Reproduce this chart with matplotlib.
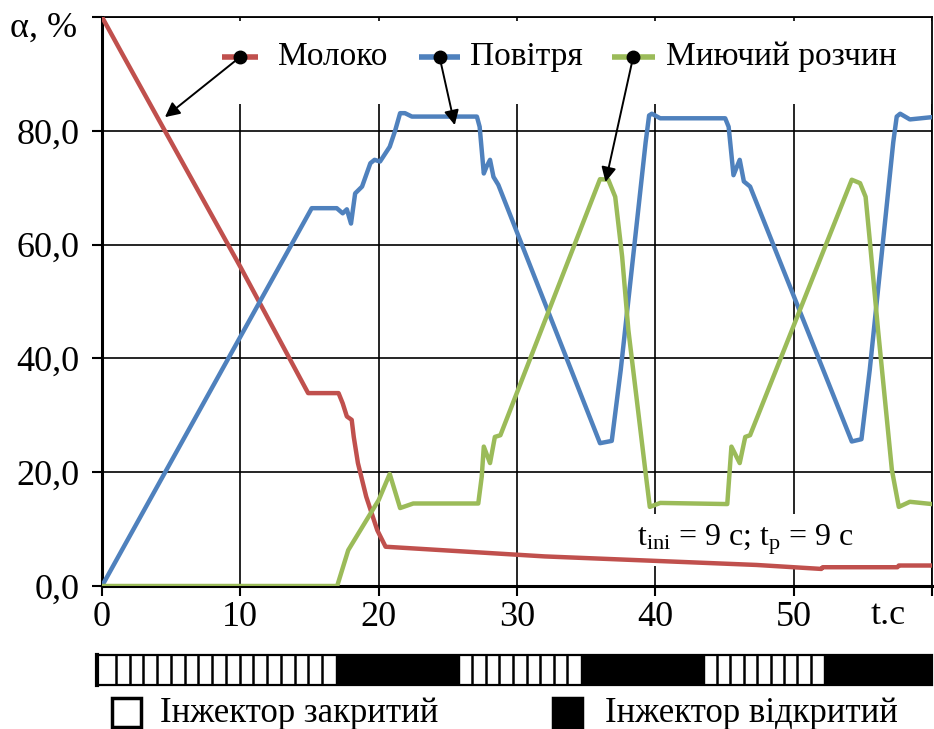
import numpy as np
import matplotlib.pyplot as plt
import matplotlib.transforms as mtransforms
from matplotlib.patches import Rectangle
from matplotlib.ticker import FuncFormatter

plt.rcParams['font.family'] = ['Liberation Serif', 'DejaVu Serif']
plt.rcParams['mathtext.fontset'] = 'custom'
plt.rcParams['mathtext.rm'] = 'Liberation Serif'

# Молоко
milk_t = [0, 1.4, 4.5, 10, 14.9, 17.1, 17.4, 17.7, 18.05, 18.2, 18.5, 19.1, 19.9, 20.5,
          32, 47.3, 52, 52.1, 57.5, 57.6, 60]
milk = [100, 93.8, 80.2, 56.1, 33.9, 33.9, 32.1, 29.8, 29.2, 26.2, 21.6, 15.7, 9.8, 6.9,
        5.2, 3.7, 3.0, 3.3, 3.3, 3.6, 3.6]

# Повітря
air_t = [0, 15.16, 16.97, 17.4, 17.7, 18.0, 18.3, 18.8, 19.4, 19.7, 20.1, 20.8, 21.2, 21.55,
         21.9, 22.4, 27.1, 27.3, 27.6, 27.8, 28.05, 28.3, 28.65, 36.0, 36.85, 37.5, 39.3,
         39.55, 39.75, 40.35, 45.05, 45.3, 45.65, 46.1, 46.4, 46.85, 54.2, 54.9, 55.5, 57.2,
         57.45, 57.7, 58.4, 60]
air = [0, 66.4, 66.4, 65.5, 66.2, 63.7, 69.0, 70.2, 74.3, 74.9, 74.6, 77.2, 80.1, 83.1,
       83.1, 82.5, 82.5, 80.7, 72.5, 73.7, 74.9, 71.9, 70.5, 25.1, 25.5, 38, 78,
       82.7, 83, 82.2, 82.2, 80.7, 72.2, 74.9, 71.1, 70.2, 25.4, 25.8, 38, 78,
       82.5, 83, 82, 82.4]

# Миючий розчин
wash_t = [0, 17.0, 17.8, 20.0, 20.8, 21.55, 22.5, 27.2, 27.45, 27.6, 28.05, 28.4, 28.8,
          36.0, 36.6, 37.1, 37.6, 38.05, 39.3, 39.6, 40.35, 45.2, 45.5, 46.1, 46.5,
          46.85, 54.2, 54.8, 55.2, 55.5, 56.1, 57.1, 57.6, 58.4, 60]
wash = [0, 0, 6.3, 15.1, 19.7, 13.7, 14.5, 14.5, 19.2, 24.5, 21.6, 26.2, 26.5,
        71.5, 71.4, 68.4, 57.9, 45, 19.8, 13.9, 14.6, 14.4, 24.5, 21.6, 26.2,
        26.5, 71.4, 70.8, 68.4, 60.8, 45, 20.4, 13.9, 14.8, 14.4]

series_names = ['Молоко', 'Повітря', 'Миючий розчин']
series_colors = ['#C0504D', '#4F81BD', '#9BBB59']

# injector state: 0 - закритий, 1 - відкритий
inj_edges = [0, 16.9, 25.8, 34.6, 43.5, 52.2, 60]
inj_state = [0, 1, 0, 1, 0, 1]

x_ticks = [0, 10, 20, 30, 40, 50, 60]
y_ticks = [0, 20, 40, 60, 80, 100]

FS = 24

fig = plt.figure(figsize=(9.34, 7.29), dpi=100)
ax = fig.add_axes([102 / 934, 1 - 586 / 729, 830 / 934, 569 / 729])

for t, v, c in zip([milk_t, air_t, wash_t], [milk, air, wash], series_colors):
    ax.plot(t, v, color=c, lw=3.2, zorder=3, solid_joinstyle='round')

ax.set_xlim(0, 60)
ax.set_ylim(0, 100)
ax.set_xticks(x_ticks)
ax.set_yticks(y_ticks)
ax.xaxis.set_major_formatter(FuncFormatter(lambda v, p: '' if v >= 60 else f'{v:.0f}'))
ax.yaxis.set_major_formatter(
    FuncFormatter(lambda v, p: '' if v >= 100 else f'{v:.1f}'.replace('.', ',')))
ax.tick_params(axis='both', labelsize=26, direction='out', length=7, width=1.5, color='k')
ax.tick_params(axis='y', pad=9)
ax.tick_params(axis='x', pad=4)
ax.grid(True, color='k', lw=1.2, zorder=1)
ax.set_axisbelow(True)
for side in ['left', 'bottom']:
    ax.spines[side].set_linewidth(2.2)
for side in ['top', 'right']:
    ax.spines[side].set_linewidth(1.3)

# axis titles
fig.text(44 / 934, 1 - 28 / 729, 'α, %', fontsize=26, ha='center', va='center')
trans = mtransforms.blended_transform_factory(ax.transData, ax.transAxes)
ax.text(56.8, -0.022, 't.c', transform=trans, fontsize=26, ha='center', va='top')

# legend with leader arrows
ax.add_patch(Rectangle((8.2, 84.7), 57.5 - 8.2 + 3.5, 14.6, fc='white', ec='none', zorder=2))
legend_x = [(8.7, 11.3), (22.9, 25.9), (36.9, 40.0)]
legend_dot = [10.0, 24.4, 38.4]
legend_text_x = [12.7, 26.6, 40.8]
arrow_tips = [(4.55, 82.4), (25.5, 81.0), (36.4, 71.0)]
legend_y = 93
for (x0, x1), xd, xt, tip, name, c in zip(legend_x, legend_dot, legend_text_x, arrow_tips,
                                           series_names, series_colors):
    ax.plot([x0, x1], [legend_y, legend_y], color=c, lw=4, zorder=4, solid_capstyle='butt')
    ax.annotate('', xy=tip, xytext=(xd, legend_y),
                arrowprops=dict(arrowstyle='-|>', color='k', lw=1.4, mutation_scale=22,
                                shrinkA=0, shrinkB=0), zorder=5)
    ax.plot(xd, legend_y, 'o', color='k', ms=9, zorder=6)
    ax.text(xt, legend_y, name, fontsize=FS, ha='left', va='center', zorder=6)

ax.text(46.5, 8.1, r'$\mathregular{t_{ini}}$ = 9 c; $\mathregular{t_p}$ = 9 c', fontsize=23,
        ha='center', va='center', zorder=2,
        bbox=dict(fc='white', ec='none', pad=6))

# injector state bar
bax = fig.add_axes([102 / 934, 1 - 685 / 729, 830 / 934, 30 / 729])
bax.set_xlim(0, 60)
bax.set_ylim(0, 1)
bax.axis('off')
for a, b, s in zip(inj_edges[:-1], inj_edges[1:], inj_state):
    if s == 1:
        bax.add_patch(Rectangle((a, 0), b - a, 1, fc='black', ec='black', lw=1))
    else:
        n = int(round((b - a) / 0.97))
        for xs in np.linspace(a, b, n + 1)[1:-1]:
            bax.plot([xs, xs], [0, 1], color='k', lw=1.8)
bax.add_patch(Rectangle((-0.35, 0), 60.35, 1, fc='none', ec='black', lw=1.6, clip_on=False))
bax.plot([-0.35, -0.35], [0, 1], color='k', lw=3, clip_on=False)

# state legend
fig.patches.append(Rectangle((112 / 934, 1 - 727 / 729), 29 / 934, 29 / 729, fc='white',
                             ec='black', lw=2.5, transform=fig.transFigure, figure=fig))
fig.text(160 / 934, 1 - 713 / 729, 'Інжектор закритий', fontsize=25, ha='left', va='center')
fig.patches.append(Rectangle((553 / 934, 1 - 727 / 729), 29 / 934, 29 / 729, fc='black',
                             ec='black', lw=2.5, transform=fig.transFigure, figure=fig))
fig.text(605 / 934, 1 - 713 / 729, 'Інжектор відкритий', fontsize=25, ha='left', va='center')

fig.savefig('out.png', dpi=100)
